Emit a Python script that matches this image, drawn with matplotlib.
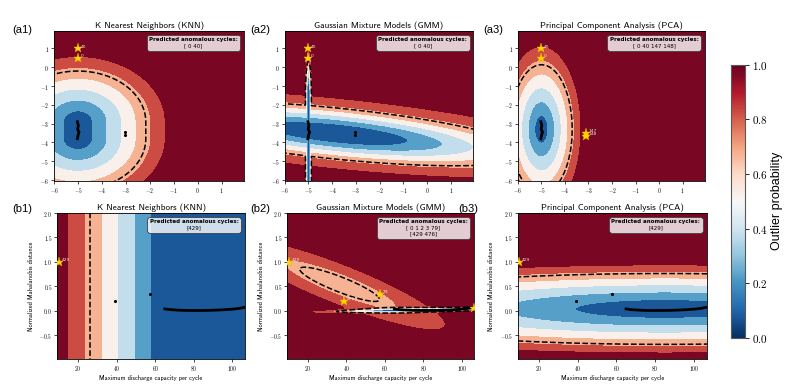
import numpy as np
import matplotlib
matplotlib.use('Agg')
import matplotlib.pyplot as plt
import matplotlib as mpl
from matplotlib.ticker import FuncFormatter, MultipleLocator
from matplotlib.offsetbox import AnchoredOffsetbox, TextArea, VPacker

plt.rcParams['mathtext.fontset'] = 'cm'
plt.rcParams['axes.linewidth'] = 0.6

# ---- top row data (feature space) ----
top_line_x = [-5.02, -4.98, -5.01, -4.95, -4.99, -5.02]
top_line_y = [-2.9, -3.1, -3.3, -3.45, -3.6, -3.8]
top_dot_x = [-3.05, -3.05]
top_dot_y = [-3.45, -3.62]
top_star_x = [-5.0, -5.0]
top_star_y = [1.0, 0.5]
top_star_lab = ['40', '0']
pca_star_x = [-3.1, -3.1]
pca_star_y = [-3.48, -3.65]
pca_star_lab = ['147', '148']

# ---- bottom row data (capacity vs distance) ----
bot_line_x = [65, 68, 72, 76, 82, 88, 94, 100, 104, 106.5]
bot_line_y = [0.035, 0.02, 0.01, 0.004, 0.003, 0.006, 0.015, 0.03, 0.05, 0.07]
bot_dot_x = [39.0, 57.5]
bot_dot_y = [0.20, 0.35]
bot_star_x = [10.0]
bot_star_y = [1.0]
bot_star_lab = ['429']
gmm_star_x = [10.0, 39.0, 57.5, 106.3]
gmm_star_y = [1.0, 0.20, 0.35, 0.06]
gmm_star_lab = ['429', '476', '79', '0']

titles = ['K Nearest Neighbors (KNN)', 'Gaussian Mixture Models (GMM)',
          'Principal Component Analysis (PCA)']
pred_top = ['[ 0 40]', '[ 0 40]', '[ 0 40 147 148]']
pred_bot = ['[429]', '[ 0 1 2 3 79]\n[429 476]', '[429]']
panel_top = ['(a1)', '(a2)', '(a3)']
panel_bot = ['(b1)', '(b2)', '(b3)']

levels = np.arange(0, 1.06, 0.15)
thresh = 0.7


# ---- model outputs (outlier probability fields) ----
def knn_top(X, Y):
    dy = np.maximum(0, np.maximum(Y + 2.9, -3.8 - Y))
    return np.hypot((X + 5.0) * 0.95, dy) / 3.85


def gmm_top(X, Y):
    dy = np.maximum(0, np.maximum(Y + 1.4, -6.5 - Y)) / 1.1
    d_spike = np.hypot((X + 5.0) / 0.08, dy)
    th = np.arctan(-0.13)
    u = (X + 3.8) * np.cos(th) + (Y + 3.53) * np.sin(th)
    v = -(X + 3.8) * np.sin(th) + (Y + 3.53) * np.cos(th)
    d_main = np.hypot(u / 5.3, v / 0.87)
    d = np.minimum(d_spike, d_main)
    return 1 - np.exp(-d ** 2 / 2)


def pca_top(X, Y):
    return np.hypot((X + 5.0) / 1.87, (Y + 3.3) / 4.9)


def knn_bot(X, Y):
    return (66.2 - X) / 57.1 + 0 * Y


def gmm_bot(X, Y):
    xs = X / 40.0
    th = np.deg2rad(-32.8)
    u = (xs - 36.5 / 40) * np.cos(th) + (Y - 0.54) * np.sin(th)
    v = -(xs - 36.5 / 40) * np.sin(th) + (Y - 0.54) * np.cos(th)
    d1 = np.hypot(u / 1.01, v / 0.232)
    th2 = np.arctan(0.03)
    u2 = (xs - 85 / 40) * np.cos(th2) + (Y - 0.02) * np.sin(th2)
    v2 = -(xs - 85 / 40) * np.sin(th2) + (Y - 0.02) * np.cos(th2)
    d2 = np.hypot(u2 / 0.767, v2 / 0.026)
    lik = 0.36 * np.exp(-d1 ** 2 / 2) + np.exp(-d2 ** 2 / 2)
    return 1 - lik


def pca_bot(X, Y):
    return np.hypot((X - 85) / 240, (Y - 0.035) / 0.99) ** 1.15


def draw_field(ax, X, Y, P):
    P = np.clip(P, 0, 1.0)
    ax.contourf(X, Y, P, levels=levels, cmap='RdBu_r', vmin=0, vmax=1)
    ax.contour(X, Y, P, levels=[thresh], colors='k', linestyles='--', linewidths=1.1)


def stars(ax, xs, ys, labs):
    ax.plot(xs, ys, ls='none', marker='*', ms=6.5, mfc='#ffd700', mec='#f0b400', mew=0.3, zorder=5)
    for x, y, l in zip(xs, ys, labs):
        ax.annotate(l, (x, y), xytext=(2, 0.5), textcoords='offset points',
                    fontsize=3.2, color='#e6e6e6', zorder=6)


def pred_box(ax, txt):
    t1 = TextArea('Predicted anomalous cycles:',
                  textprops=dict(fontsize=4.0, fontweight='bold', family='DejaVu Sans'))
    t2 = TextArea(txt, textprops=dict(fontsize=4.0, family='DejaVu Sans', multialignment='center'))
    pack = VPacker(children=[t1, t2], align='center', pad=0, sep=1)
    box = AnchoredOffsetbox(loc='upper right', child=pack, pad=0.35, borderpad=0.55,
                            frameon=True, prop=dict(size=5))
    box.patch.set_boxstyle('round,pad=0,rounding_size=0.4')
    box.patch.set_facecolor((1, 1, 1, 0.8))
    box.patch.set_edgecolor('0.25')
    box.patch.set_linewidth(0.6)
    box.zorder = 7
    ax.add_artist(box)


def fmt(f):
    return FuncFormatter(lambda v, p: '$' + (f % v) + '$')


fig = plt.figure(figsize=(7.93, 3.91), dpi=100)

top_pos = [[0.068, 0.537, 0.240, 0.384],
           [0.359, 0.537, 0.238, 0.384],
           [0.653, 0.537, 0.236, 0.384]]
bot_pos = [[0.072, 0.082, 0.237, 0.373],
           [0.362, 0.082, 0.236, 0.373],
           [0.653, 0.082, 0.238, 0.373]]
top_lab_x = [0.015, 0.315, 0.610]
bot_lab_x = [0.015, 0.315, 0.578]

xt = np.linspace(-6.2, 2.1, 500)
yt = np.linspace(-6.3, 2.1, 500)
XT, YT = np.meshgrid(xt, yt)
xb = np.linspace(8, 108, 500)
yb = np.linspace(-1.1, 2.1, 500)
XB, YB = np.meshgrid(xb, yb)

top_fields = [knn_top, gmm_top, pca_top]
bot_fields = [knn_bot, gmm_bot, pca_bot]

for i in range(3):
    # top row
    ax = fig.add_axes(top_pos[i])
    draw_field(ax, XT, YT, top_fields[i](XT, YT))
    ax.plot(top_line_x, top_line_y, 'k-', lw=2, zorder=4)
    if i < 2:
        ax.plot(top_dot_x, top_dot_y, 'k.', ms=2.5, zorder=4)
    else:
        stars(ax, pca_star_x, pca_star_y, pca_star_lab)
    stars(ax, top_star_x, top_star_y, top_star_lab)
    ax.set_xlim(-6.0, 1.95)
    ax.set_ylim(-6.05, 1.93)
    ax.xaxis.set_major_locator(MultipleLocator(1))
    ax.yaxis.set_major_locator(MultipleLocator(1))
    ax.xaxis.set_major_formatter(fmt('%d'))
    ax.yaxis.set_major_formatter(fmt('%d'))
    ax.tick_params(labelsize=4, length=2, width=0.5, pad=1.5)
    ax.set_title(titles[i], family='cmss10', fontsize=6.6, pad=2)
    pred_box(ax, pred_top[i])
    fig.text(top_lab_x[i], 0.923, panel_top[i], family='Liberation Sans', fontsize=8, va='center')

    # bottom row
    ax = fig.add_axes(bot_pos[i])
    draw_field(ax, XB, YB, bot_fields[i](XB, YB))
    ax.plot(bot_line_x, bot_line_y, 'k-', lw=2, zorder=4)
    if i == 1:
        stars(ax, gmm_star_x, gmm_star_y, gmm_star_lab)
    else:
        ax.plot(bot_dot_x, bot_dot_y, 'k.', ms=2.5, zorder=4)
        stars(ax, bot_star_x, bot_star_y, bot_star_lab)
    ax.set_xlim(9.2, 106.5)
    ax.set_ylim(-0.99, 2.0)
    ax.xaxis.set_major_locator(MultipleLocator(20))
    ax.yaxis.set_major_locator(MultipleLocator(0.5))
    ax.xaxis.set_major_formatter(fmt('%d'))
    ax.yaxis.set_major_formatter(fmt('%.1f'))
    ax.tick_params(labelsize=4, length=2, width=0.5, pad=1.5)
    ax.set_title(titles[i], family='cmss10', fontsize=6.6, pad=2)
    ax.set_xlabel('Maximum discharge capacity per cycle', family='cmss10', fontsize=4.6, labelpad=1.5)
    ax.set_ylabel('Normalized Mahalanobis distance', family='cmss10', fontsize=4.6, labelpad=4)
    pred_box(ax, pred_bot[i])
    fig.text(bot_lab_x[i], 0.465, panel_bot[i], family='Liberation Sans', fontsize=8, va='center')

# colorbar
cax = fig.add_axes([0.922, 0.136, 0.018, 0.698])
sm = mpl.cm.ScalarMappable(norm=mpl.colors.Normalize(0, 1), cmap='RdBu_r')
cb = fig.colorbar(sm, cax=cax, ticks=[0, 0.2, 0.4, 0.6, 0.8, 1.0])
cb.ax.yaxis.set_major_formatter(fmt('%.1f'))
cb.ax.tick_params(labelsize=8, length=3, width=0.6, pad=2)
cb.outline.set_edgecolor('0.35')
cb.outline.set_linewidth(0.8)
cb.set_label('Outlier probability', family='Liberation Sans', fontsize=9, labelpad=2)

fig.savefig('out.png', dpi=100)
